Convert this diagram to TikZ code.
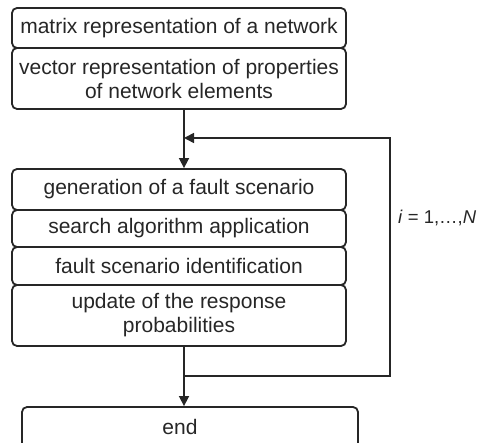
\documentclass[tikz,border=0pt]{standalone}
\usepackage{fontspec}
\setmainfont{Liberation Sans}
\usetikzlibrary{arrows.meta}
\begin{document}
\begin{tikzpicture}[x=1pt,y=-1pt,
  stepbox/.style={draw=black!85, line width=1.8pt, rounded corners=5pt, inner sep=0pt,
    align=center, font=\fontsize{21}{24}\selectfont, text=black!85},
  conn/.style={draw=black!85, line width=1.6pt},
  arr/.style={conn, -{Triangle[length=10pt,width=10pt]}}]
\useasboundingbox (0,0) rectangle (479,443);
\clip (0,0) rectangle (479,443);
\node[stepbox, minimum width=334pt, minimum height=40pt] (b1) at (179,28) {matrix representation of a network};
\node[stepbox, minimum width=334pt, minimum height=61pt] (b2) at (179,78.5) {vector representation of properties\\of network elements};
\node[stepbox, minimum width=334pt, minimum height=41pt] (b3) at (179,189.5) {generation of a fault scenario};
\node[stepbox, minimum width=334pt, minimum height=37pt] (b4) at (179,228.5) {search algorithm application};
\node[stepbox, minimum width=334pt, minimum height=38pt] (b5) at (179,266) {fault scenario identification};
\node[stepbox, minimum width=334pt, minimum height=61pt] (b6) at (179,315.5) {update of the response\\probabilities};
\node[stepbox, minimum width=336pt, minimum height=44pt] (end) at (190,429) {};
\node[font=\fontsize{21}{24}\selectfont, text=black!85] (endt) at (180,427) {end};
\coordinate (xl) at (184,0);
\coordinate (jt) at (184,138);
\coordinate (jb) at (184,376);
\coordinate (rt) at (390,138);
\coordinate (rb) at (390,376);
\draw[arr] (b2.south -| xl) -- (b3.north -| xl);
\draw[arr] (b6.south -| xl) -- (end.north -| xl);
\draw[arr] (jb) -- (rb) -- (rt) -- (jt);
\node[font=\fontsize{18.5}{22}\selectfont, text=black!85, anchor=west, inner sep=0pt] (lab) at (398,218) {\textit{i} = 1,…,\textit{N}};
\end{tikzpicture}
\end{document}
